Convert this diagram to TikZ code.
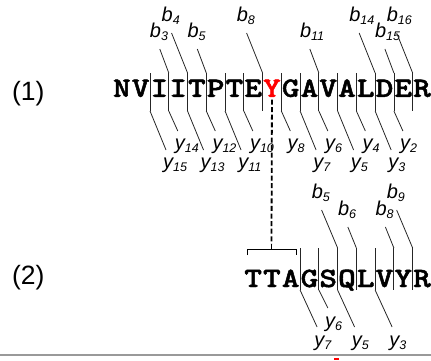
\documentclass[tikz,border=0pt]{standalone}
\usepackage{fontspec}
\setsansfont{Liberation Sans}
\newfontfamily\seqfont{lmmonolt10-bold.otf}[FakeBold=1.5]
\usetikzlibrary{calc}
\tikzset{
  tick/.style={line width=0.8pt, black!85},
  seqchar/.style={inner sep=0pt, anchor=base,
    font=\fontsize{28}{28}\selectfont\seqfont},
  ionlab/.style={inner sep=0pt, anchor=base west,
    font=\fontsize{20}{20}\selectfont\sffamily\itshape},
  rowlab/.style={inner sep=0pt, font=\fontsize{26.5}{26.5}\selectfont\sffamily},
  link/.style={line width=1.8pt, dash pattern=on 5pt off 2.6pt},
  bracketline/.style={line width=1pt},
}
% ion label: letter with a lowered index
\newcommand\ionname[2]{#1\raisebox{-3pt}{\fontsize{12.5}{12.5}\selectfont #2}}
% widened residue letter
\newcommand\residue[1]{\scalebox{1.2}[1]{#1}}
\begin{document}
\begin{tikzpicture}[x=1pt,y=-1pt]
\useasboundingbox (0,0) rectangle (431,360);

% row labels
\node[rowlab] (lab1) at (28.3,93.3) {(1)};
\node[rowlab] (lab2) at (28.3,277.5) {(2)};

% ---- peptide (1) ----
\foreach \ch/\col [count=\i] in {N/black,V/black,I/black,I/black,T/black,P/black,
    T/black,E/black,Y/red,G/black,A/black,V/black,A/black,L/black,D/black,E/black,R/black}
  \node[seqchar, text=\col] (pa\i) at ({112.5+18.76*(\i-0.5)},96.8) {\residue{\ch}};

% cleavage ticks between residues
\foreach \k in {2,...,16}{
  \coordinate (ta\k) at ({112.5+18.76*\k},73);
  \coordinate (ua\k) at ({112.5+18.76*\k},111);
  \draw[tick] (ta\k) -- (ua\k);
}
% b ions (N-terminal fragments)
\foreach \k/\dx/\dy in {3/-9/-24,4/-16/-40,5/-9/-24,8/-16/-40,11/-9/-24,14/-16/-40,15/-9/-24,16/-16/-40}{
  \draw[tick] (ta\k) -- ++(\dx,\dy) coordinate (ba\k);
  \node[ionlab] (lba\k) at ($(ba\k)+(-10,-12)$) {\ionname{b}{\k}};
}
% y ions (C-terminal fragments)
\foreach \k/\n/\dx/\dy in {2/15/16/39,3/14/9/20,4/13/16/39,5/12/9/20,6/11/16/39,7/10/9/20,
    9/8/9/20,10/7/16/39,11/6/9/20,12/5/16/39,13/4/9/20,14/3/16/39,15/2/9/20}{
  \draw[tick] (ua\k) -- ++(\dx,\dy) coordinate (ya\k);
  \node[ionlab] (lya\k) at ($(ya\k)+(-3,18)$) {\ionname{y}{\n}};
}

% ---- peptide (2) ----
\foreach \ch [count=\i] in {T,T,A,G,S,Q,L,V,Y,R}
  \node[seqchar] (pb\i) at ({243.8+18.76*(\i-0.5)},287) {\residue{\ch}};

\foreach \k in {3,...,9}{
  \coordinate (tb\k) at ({243.8+18.76*\k},248);
  \coordinate (ub\k) at ({243.8+18.76*\k},290);
  \draw[tick] (tb\k) -- (ub\k);
}
\foreach \k/\dx/\dy in {5/-16/-38,6/-8.5/-21,8/-8.5/-21,9/-16/-38}{
  \draw[tick] (tb\k) -- ++(\dx,\dy) coordinate (bb\k);
  \node[ionlab] (lbb\k) at ($(bb\k)+(-10,-12)$) {\ionname{b}{\k}};
}
\foreach \k/\n/\dx/\dy in {3/7/17/37,4/6/9/18,5/5/17/37,7/3/17/37}{
  \draw[tick] (ub\k) -- ++(\dx,\dy) coordinate (yb\k);
  \node[ionlab] (lyb\k) at ($(yb\k)+(-3,19)$) {\ionname{y}{\n}};
}

% link from the red Y down to the bracket over TT
\coordinate (brtip) at (271.5,244);
\coordinate (brmid) at (271.5,249);
\draw[link, shorten <=2.5pt] (pa9.south) -- (brtip);
\draw[bracketline] (247,255) -- (247,249) -- (296,249) -- (296,255);
\draw[bracketline] (brmid) -- (brtip);

% rule along the bottom
\draw[line width=1.5pt, black!40] (0,355) -- (431,355);
\fill[red] (333.5,358) rectangle (338.5,360);
\end{tikzpicture}
\end{document}
